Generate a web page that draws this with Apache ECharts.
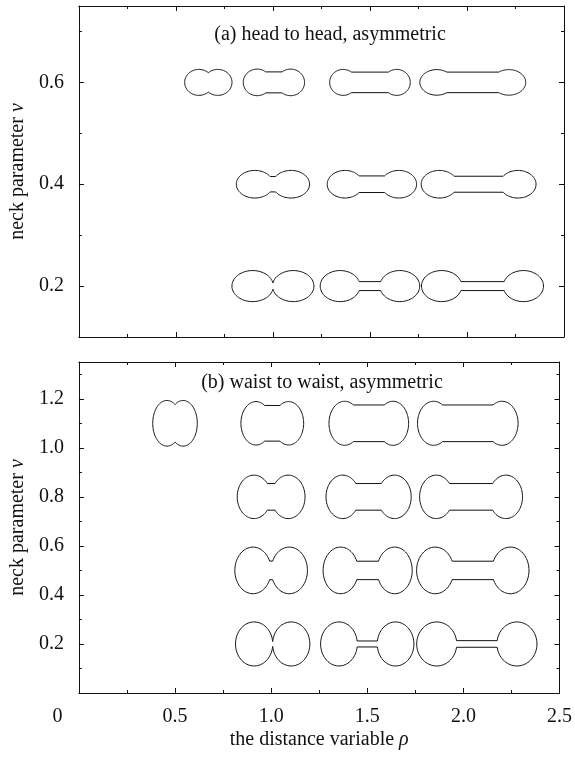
<!DOCTYPE html>
<html><head><meta charset="utf-8">
<script src="https://cdn.jsdelivr.net/npm/echarts@6/dist/echarts.min.js"></script>
<style>html,body{margin:0;padding:0;background:#fff}#c{width:575px;height:757px}</style>
</head><body><div id="c"></div>
<script>
// ---------- data: panel (a) head to head ----------
const rhoA = [0.667, 1.005, 1.5, 2.03, 1.0, 1.51, 2.06, 1.0, 1.5, 2.08];
const nuA  = [0.6, 0.6, 0.6, 0.6, 0.4, 0.4, 0.4, 0.2, 0.2, 0.2];
// lobe half-width (rho units), lobe centre offset (rho units), lobe half-height (nu units), neck half-height (nu units)
const lobeWidthA  = [0.0733, 0.0718, 0.0697, 0.0872, 0.0954, 0.0913, 0.0933, 0.1067, 0.1026, 0.1036];
const lobeOffsetA = [0.0487, 0.0862, 0.138, 0.1856, 0.0933, 0.139, 0.2026, 0.1046, 0.1538, 0.2108];
const lobeHeightA = [0.0255, 0.0261, 0.0255, 0.0251, 0.0271, 0.0271, 0.0271, 0.0305, 0.0305, 0.0305];
const neckHeightA = [0.0191, 0.0206, 0.0202, 0.0202, 0.0151, 0.0163, 0.0157, 0.0059, 0.0088, 0.0088];

// ---------- data: panel (b) waist to waist ----------
const rhoB = [0.5, 1.006, 1.508, 2.023, 1.0, 1.507, 2.04, 1.0, 1.502, 2.049, 1.008, 1.5, 2.07];
const nuB  = [1.1, 1.1, 1.1, 1.1, 0.8, 0.8, 0.8, 0.5, 0.5, 0.5, 0.2, 0.2, 0.2];
const lobeWidthB  = [0.0738, 0.0785, 0.0815, 0.0836, 0.0872, 0.0867, 0.0867, 0.0944, 0.0913, 0.0964, 0.0969, 0.0954, 0.1041];
const lobeOffsetB = [0.0421, 0.0846, 0.1256, 0.1779, 0.0892, 0.1349, 0.181, 0.0944, 0.1405, 0.1959, 0.0964, 0.1472, 0.2087];
const lobeHeightB = [0.0931, 0.0886, 0.0898, 0.0898, 0.0886, 0.0886, 0.0886, 0.0951, 0.0951, 0.0951, 0.0898, 0.0898, 0.0898];
const neckHeightB = [0.0763, 0.0727, 0.0747, 0.0747, 0.0543, 0.0543, 0.0543, 0.038, 0.0376, 0.0376, 0.0102, 0.0122, 0.0135];

// ---------- ticks ----------
const yMajorA = [0.2, 0.4, 0.6];
const yMinorA = [0.1, 0.3, 0.5, 0.7];
const yMajorB = [0.2, 0.4, 0.6, 0.8, 1.0, 1.2];
const yMinorB = [0.1, 0.3, 0.5, 0.7, 0.9, 1.1, 1.3];

const titleA = '(a) head to head, asymmetric';
const titleB = '(b) waist to waist, asymmetric';

const FONT = 'Liberation Serif';
const FS = 20;
const INK = '#111';
const lineStyle = { color: INK, width: 1 };

function build(rho, nu, w, off, hgt, neck) {
  return rho.map((r, i) => [r, nu[i], w[i], off[i], hgt[i], neck[i]]);
}

function renderGlyph(params, api) {
  const p = api.coord([api.value(0), api.value(1)]);
  const s1 = api.size([api.value(2), api.value(4)]);
  const s2 = api.size([api.value(3), api.value(5)]);
  const a = s1[0], b = s1[1], c = s2[0], h = s2[1];
  const phi0 = Math.max(Math.asin(Math.min(h / b, 1)), Math.acos(Math.min(c / a, 1)));
  const pts = [];
  const N = 72;
  const span = 2 * Math.PI - 2 * phi0;
  for (let i = 0; i <= N; i++) {
    const t = phi0 + span * i / N;
    pts.push([p[0] - c + a * Math.cos(t), p[1] - b * Math.sin(t)]);
  }
  for (let i = 0; i <= N; i++) {
    const t = Math.PI + phi0 + span * i / N;
    pts.push([p[0] + c + a * Math.cos(t), p[1] - b * Math.sin(t)]);
  }
  return { type: 'polygon', shape: { points: pts }, style: { fill: 'none', stroke: INK, lineWidth: 1 } };
}

function xAxisPair(grid, showLabels) {
  const common = {
    type: 'value', gridIndex: grid, min: 0, max: 2.5, interval: 0.5,
    axisLine: { show: true, onZero: false, lineStyle },
    axisTick: { show: true, inside: true, length: 5, lineStyle },
    minorTick: { show: true, splitNumber: 2, length: 3, lineStyle },
    splitLine: { show: false }
  };
  const bottom = Object.assign({}, common, {
    position: 'bottom',
    axisLabel: {
      show: showLabels, margin: 14, fontSize: FS, fontFamily: FONT, color: INK,
      formatter: v => (Math.abs(v) < 1e-9 ? '{z|0}' : v.toFixed(1)),
      rich: { z: { padding: [0, 43, 0, 0], fontSize: FS, fontFamily: FONT, color: INK } }
    }
  });
  if (showLabels) {
    bottom.name = 'the distance variable {i|ρ}';
    bottom.nameLocation = 'middle';
    bottom.nameGap = 37;
    bottom.nameTextStyle = { fontSize: FS, fontFamily: FONT, color: INK,
      rich: { i: { fontStyle: 'italic', fontSize: FS, fontFamily: FONT, color: INK } } };
  }
  const top = Object.assign({}, common, { position: 'top', axisLabel: { show: false } });
  return [bottom, top];
}

function yAxes(grid, min, max, majors, minors) {
  const base = { type: 'value', gridIndex: grid, min, max, splitLine: { show: false } };
  const leftMajor = Object.assign({}, base, {
    position: 'left',
    axisLine: { show: true, onZero: false, lineStyle },
    axisTick: { show: true, inside: true, length: 5, lineStyle, customValues: majors },
    axisLabel: { show: true, customValues: majors, margin: 15, fontSize: FS, fontFamily: FONT, color: INK,
      formatter: v => v.toFixed(1) },
    name: 'neck parameter {i|ν}', nameLocation: 'middle', nameGap: 48,
    nameTextStyle: { fontSize: FS, fontFamily: FONT, color: INK,
      rich: { i: { fontStyle: 'italic', fontSize: FS, fontFamily: FONT, color: INK } } }
  });
  const rightMajor = Object.assign({}, base, {
    position: 'right',
    axisLine: { show: true, onZero: false, lineStyle },
    axisTick: { show: true, inside: true, length: 5, lineStyle, customValues: majors },
    axisLabel: { show: false }
  });
  const leftMinor = Object.assign({}, base, {
    position: 'left',
    axisLine: { show: false, onZero: false },
    axisTick: { show: true, inside: true, length: 3, lineStyle, customValues: minors },
    axisLabel: { show: false }
  });
  const rightMinor = Object.assign({}, base, {
    position: 'right',
    axisLine: { show: false, onZero: false },
    axisTick: { show: true, inside: true, length: 3, lineStyle, customValues: minors },
    axisLabel: { show: false }
  });
  return [leftMajor, rightMajor, leftMinor, rightMinor];
}

const chart = echarts.init(document.getElementById('c'), null, { renderer: 'canvas' });
chart.setOption({
  animation: false,
  backgroundColor: '#fff',
  grid: [
    { left: 77, right: 11, top: 6, height: 331 },
    { left: 77, right: 11, top: 362, height: 331 }
  ],
  xAxis: [].concat(xAxisPair(0, false), xAxisPair(1, true)),
  yAxis: [].concat(yAxes(0, 0.1, 0.75, yMajorA, yMinorA), yAxes(1, 0, 1.35, yMajorB, yMinorB)),
  graphic: [
    { type: 'text', x: 330, y: 35, style: { text: titleA, font: FS + 'px "' + FONT + '"', fill: INK, textAlign: 'center', textVerticalAlign: 'middle' } },
    { type: 'text', x: 322, y: 383, style: { text: titleB, font: FS + 'px "' + FONT + '"', fill: INK, textAlign: 'center', textVerticalAlign: 'middle' } }
  ],
  series: [
    { type: 'custom', xAxisIndex: 0, yAxisIndex: 0, renderItem: renderGlyph,
      encode: { x: 0, y: 1 }, data: build(rhoA, nuA, lobeWidthA, lobeOffsetA, lobeHeightA, neckHeightA) },
    { type: 'custom', xAxisIndex: 2, yAxisIndex: 4, renderItem: renderGlyph,
      encode: { x: 0, y: 1 }, data: build(rhoB, nuB, lobeWidthB, lobeOffsetB, lobeHeightB, neckHeightB) }
  ]
});
</script></body></html>
